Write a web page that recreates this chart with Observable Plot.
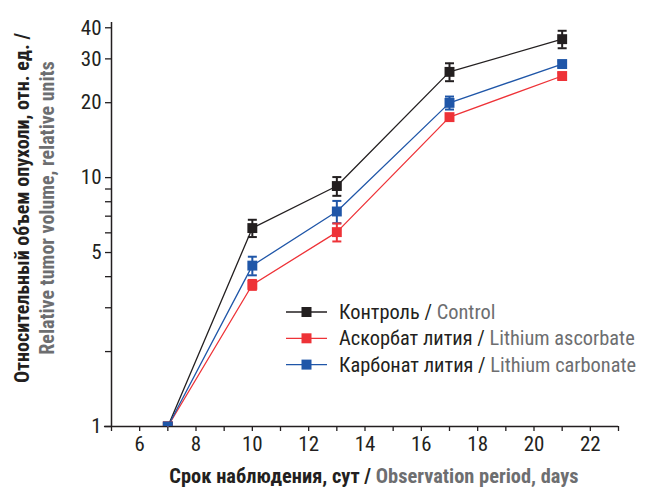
<!DOCTYPE html>
<html>
<head>
<meta charset="utf-8">
<script src="https://cdn.jsdelivr.net/npm/d3@7"></script>
<script src="https://cdn.jsdelivr.net/npm/@observablehq/plot@0.6"></script>
<style>
  html, body { margin: 0; padding: 0; background: #fff; }
  #chart { position: relative; width: 649px; height: 487px; }
</style>
</head>
<body>
<div id="chart"></div>
<script>
// ---- data ----
const days = [7, 10, 13, 17, 21];
const controlMean = [1, 6.27, 9.25, 26.6, 36.0];
const controlErr  = [0, 0.5, 0.8, 2.2, 2.9];
const ascorbateMean = [1, 3.71, 6.04, 17.5, 25.6];
const ascorbateErr  = [0, 0.17, 0.5, 0.45, 0.7];
const carbonateMean = [1, 4.43, 7.31, 19.97, 28.6];
const carbonateErr  = [0, 0.38, 0.75, 1.2, 0.7];

const seriesNamesRu = ["Контроль", "Аскорбат лития", "Карбонат лития"];
const seriesNamesEn = ["Control", "Lithium ascorbate", "Lithium carbonate"];
const seriesColors = ["#231f20", "#ee3237", "#1f56a8"];

const xTicks = [5, 6, 7, 8, 9, 10, 11, 12, 13, 14, 15, 16, 17, 18, 19, 20, 21, 22, 23];
const xTickLabels = [6, 8, 10, 12, 14, 16, 18, 20, 22];
const yTicks = [1, 2, 3, 4, 5, 6, 7, 8, 9, 10, 20, 30, 40];
const yTickLabels = [1, 5, 10, 20, 30, 40];

const yLabelRu = "Относительный объем опухоли, отн. ед. /";
const yLabelEn = "Relative tumor volume, relative units";
const xLabelRu = "Срок наблюдения, сут / ";
const xLabelEn = "Observation period, days";

// ---- build rows ----
const means = [controlMean, ascorbateMean, carbonateMean];
const errs = [controlErr, ascorbateErr, carbonateErr];
const rows = [];
means.forEach((m, s) => days.forEach((d, i) => rows.push({
  s, day: d, v: m[i], lo: m[i] - errs[s][i], hi: m[i] + errs[s][i], err: errs[s][i]
})));
const errRows = rows.filter(r => r.err > 0);

const capSymbol = {
  draw(ctx, size) {
    const w = 4.5;
    ctx.moveTo(-w, 0); ctx.lineTo(w, 0);
  }
};

const color = s => seriesColors[s];
const fam = "'Liberation Sans Narrow', 'Roboto Condensed', 'DejaVu Sans Condensed', sans-serif";

const plot = Plot.plot({
  width: 649,
  height: 487,
  marginLeft: 111,
  marginRight: 31,
  marginTop: 22,
  marginBottom: 61,
  style: { fontSize: "21px", fontFamily: fam, color: "#231f20" },
  x: { domain: [5, 23] },
  y: { type: "log", domain: [1, 42] },
  marks: [
    Plot.axisX({ ticks: xTicks, tickSize: 5, tickFormat: d => xTickLabels.includes(d) ? String(d) : "", tickPadding: 5, label: null, stroke: "#231f20", strokeWidth: 1.3 }),
    Plot.axisY({ ticks: yTicks, tickSize: 6, tickFormat: d => yTickLabels.includes(d) ? String(d) : "", tickPadding: 4, label: null, stroke: "#231f20", strokeWidth: 1.3 }),
    Plot.ruleX([5], { y1: 1, y2: 42, stroke: "#231f20", strokeWidth: 1.5 }),
    Plot.ruleY([1], { x1: 4.75, x2: 23, stroke: "#231f20", strokeWidth: 1.5 }),
    // lines
    Plot.line(rows, { x: "day", y: "v", z: "s", stroke: d => color(d.s), strokeWidth: 1.3 }),
    // error bars
    Plot.ruleX(errRows, { x: "day", y1: "lo", y2: "hi", stroke: d => color(d.s), strokeWidth: 2 }),
    Plot.dot(errRows, { x: "day", y: "lo", symbol: capSymbol, r: 4, stroke: d => color(d.s), strokeWidth: 2, fill: "none" }),
    Plot.dot(errRows, { x: "day", y: "hi", symbol: capSymbol, r: 4, stroke: d => color(d.s), strokeWidth: 2, fill: "none" }),
    // markers
    Plot.dot(rows, { x: "day", y: "v", symbol: "square", r: 5.6, fill: d => color(d.s), stroke: "none", clip: true })
  ]
});

document.getElementById("chart").appendChild(plot);

// axis titles and legend
const svg = d3.select(plot);

const yl = svg.append("g").attr("transform", "translate(0,208) rotate(-90)")
  .attr("font-family", fam).attr("font-weight", "bold").attr("font-size", 20).attr("text-anchor", "middle");
yl.append("text").attr("x", 0).attr("y", 29).attr("fill", "#231f20").text(yLabelRu);
yl.append("text").attr("x", 0).attr("y", 54).attr("fill", "#6d6e70").text(yLabelEn);

const xl = svg.append("text").attr("x", 374).attr("y", 483).attr("text-anchor", "middle")
  .attr("font-family", fam).attr("font-weight", "bold").attr("font-size", 20.4);
xl.append("tspan").attr("fill", "#231f20").text(xLabelRu);
xl.append("tspan").attr("fill", "#6d6e70").text(xLabelEn);

const lg = svg.append("g").attr("font-family", fam).attr("font-size", 20.4).attr("text-anchor", "start");
seriesNamesRu.forEach((name, i) => {
  const g = lg.append("g").attr("transform", `translate(286,${312 + i * 26.3})`);
  g.append("line").attr("x1", 0).attr("x2", 41).attr("y1", 0).attr("y2", 0)
    .attr("stroke", seriesColors[i]).attr("stroke-width", 1.3);
  g.append("rect").attr("x", 15.5).attr("y", -5).attr("width", 10).attr("height", 10).attr("fill", seriesColors[i]);
  const t = g.append("text").attr("x", 53).attr("y", 0).attr("dy", "0.35em");
  t.append("tspan").attr("fill", "#231f20").text(name + " / ");
  t.append("tspan").attr("fill", "#6d6e70").text(seriesNamesEn[i]);
});
</script>
</body>
</html>
